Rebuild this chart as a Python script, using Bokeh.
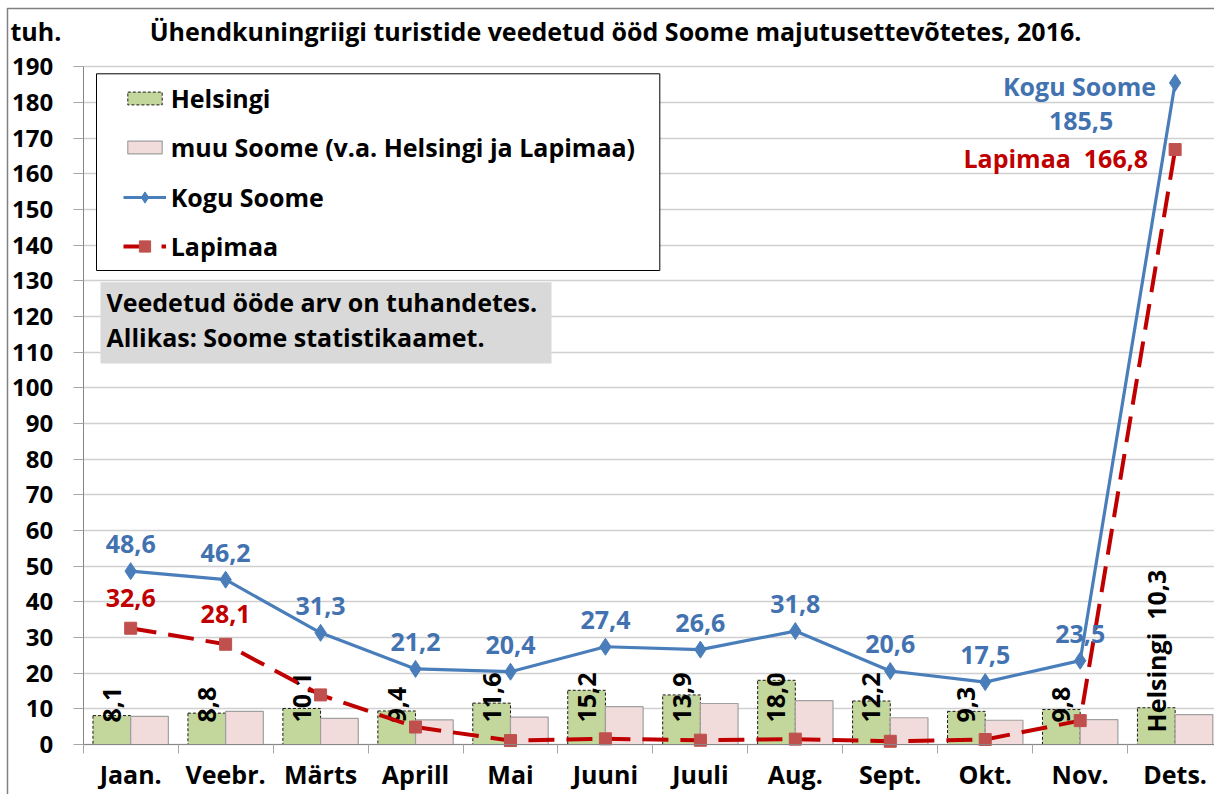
import numpy as np
from bokeh.plotting import figure
from bokeh.models import (Range1d, FixedTicker, Legend, LegendItem, BoxAnnotation,
                          Label, ColumnDataSource)
from bokeh.core.properties import value
from bokeh.embed import file_html
from bokeh.resources import INLINE

# ---------------- data ----------------
months = ["Jaan.", "Veebr.", "Märts", "Aprill", "Mai", "Juuni", "Juuli",
          "Aug.", "Sept.", "Okt.", "Nov.", "Dets."]
helsingi = [8.1, 8.8, 10.1, 9.4, 11.6, 15.2, 13.9, 18.0, 12.2, 9.3, 9.8, 10.3]
muu_soome = [7.9, 9.3, 7.3, 6.9, 7.7, 10.6, 11.5, 12.3, 7.5, 6.8, 7.0, 8.4]
kogu_soome = [48.6, 46.2, 31.3, 21.2, 20.4, 27.4, 26.6, 31.8, 20.6, 17.5, 23.5, 185.5]
lapimaa = [32.6, 28.1, 13.9, 4.9, 1.1, 1.6, 1.2, 1.5, 0.9, 1.4, 6.7, 166.8]
y_ticks = list(range(0, 200, 10))

title_text = "Ühendkuningriigi turistide veedetud ööd Soome majutusettevõtetes, 2016."
unit_text = "tuh."
note_lines = ["Veedetud ööde arv on tuhandetes.", "Allikas: Soome statistikaamet."]
series_names = ["Helsingi", "muu Soome (v.a. Helsingi ja Lapimaa)", "Kogu Soome", "Lapimaa"]
NB = "\u00a0"


def fmt(v):
    return f"{v:.1f}".replace(".", ",")


# ---------------- styling ----------------
FN = "Open Sans"
FONT = value(FN)
FS = "25px"
C_HEL = "#c3d69b"
C_MUU = "#f2dcdb"
C_KOGU = "#4a7ebb"
C_KOGU_TXT = "#4272b0"
C_LAPI = "#c00000"
C_LAPI_M = "#c0504d"

W, H = 1214, 794
AX_X = 82.7        # pixel x of the value axis
AX_Y = 744.0       # pixel y of zero
CW = 94.95         # px per category
PY = 677.7 / 190.0 # px per unit


def dx(px):
    return -0.5 + (px - AX_X) / CW


def dy(py):
    return (AX_Y - py) / PY


p = figure(width=W, height=H, x_range=Range1d(dx(0), dx(W)), y_range=Range1d(dy(H), dy(0)),
           output_backend="svg", toolbar_location=None, title=None, min_border=0,
           min_border_left=0, min_border_right=0, min_border_top=0, min_border_bottom=0)
p.outline_line_color = None
p.background_fill_color = "white"
p.border_fill_color = "white"

# outer chart border (left / top visible)
p.add_layout(BoxAnnotation(left=dx(7), top=dy(8), right=dx(W + 20), bottom=dy(H + 20),
                           fill_alpha=0, line_color="#808080", line_alpha=1, line_width=1.5,
                           level="underlay"))

x = np.arange(len(months))
n = len(months)
bw = 0.397
src = ColumnDataSource(dict(x=x, xh=x - bw / 2, xm=x + bw / 2, hel=helsingi, muu=muu_soome,
                            kogu=kogu_soome, lapi=lapimaa))

rh = p.vbar(x="xh", top="hel", width=bw, source=src, fill_color=C_HEL,
            line_color="#1a1a1a", line_dash="3 2", line_width=1)
rm = p.vbar(x="xm", top="muu", width=bw, source=src, fill_color=C_MUU,
            line_color="#a0a0a0", line_width=1.2)

# Helsingi labels (rotated)
p.text(x=list(x[:n - 1] - bw / 2), y=[0] * (n - 1), text=[fmt(v) for v in helsingi[:n - 1]],
       angle=np.pi / 2, text_align="left", text_baseline="middle", y_offset=-22,
       text_font=FONT, text_font_style="bold", text_font_size=FS, text_color="black")
p.text(x=[x[-1] - bw / 2], y=[0], text=["Helsingi" + NB + NB + fmt(helsingi[-1])],
       angle=np.pi / 2, text_align="left", text_baseline="middle", y_offset=-12,
       text_font=FONT, text_font_style="bold", text_font_size=FS, text_color="black")

ll = p.line("x", "lapi", source=src, line_color=C_LAPI, line_width=4, line_dash="26 12")
sl = p.scatter("x", "lapi", source=src, marker="square", size=12,
               fill_color=C_LAPI_M, line_color=C_LAPI_M)
lk = p.line("x", "kogu", source=src, line_color=C_KOGU, line_width=3.2)
sk = p.scatter("x", "kogu", source=src, marker="diamond", size=17,
               fill_color=C_KOGU, line_color=C_KOGU)

# Kogu labels
p.text(x=list(x[:n - 1]), y=kogu_soome[:n - 1], text=[fmt(v) for v in kogu_soome[:n - 1]],
       text_align="center", text_baseline="middle", y_offset=-27,
       text_font=FONT, text_font_style="bold", text_font_size=FS, text_color=C_KOGU_TXT)
# Lapimaa labels (first two)
p.text(x=list(x[:2]), y=lapimaa[:2], text=[fmt(v) for v in lapimaa[:2]],
       text_align="center", text_baseline="middle", y_offset=-30,
       text_font=FONT, text_font_style="bold", text_font_size=FS, text_color=C_LAPI)
# December labels
p.text(x=[x[-1]], y=[kogu_soome[-1]], text=[series_names[2]], text_align="right",
       text_baseline="middle", x_offset=-19, y_offset=3,
       text_font=FONT, text_font_style="bold", text_font_size=FS, text_color=C_KOGU_TXT)
p.text(x=[x[-1]], y=[kogu_soome[-1]], text=[fmt(kogu_soome[-1])], text_align="center",
       text_baseline="middle", x_offset=-94, y_offset=38,
       text_font=FONT, text_font_style="bold", text_font_size=FS, text_color=C_KOGU_TXT)
p.text(x=[x[-1]], y=[lapimaa[-1]], text=[series_names[3] + NB + NB + fmt(lapimaa[-1])],
       text_align="right", text_baseline="middle", x_offset=-27, y_offset=8,
       text_font=FONT, text_font_style="bold", text_font_size=FS, text_color=C_LAPI)

# axes (fixed inside the frame so that the frame covers the whole canvas)
p.yaxis.fixed_location = -0.5
p.yaxis.bounds = (0, 190)
p.yaxis.ticker = FixedTicker(ticks=y_ticks)
p.yaxis.major_tick_out = 10
p.yaxis.major_tick_in = 0
p.yaxis.minor_tick_out = 0
p.yaxis.minor_tick_in = 0
p.yaxis.major_tick_line_color = "#a6a6a6"
p.yaxis.axis_line_color = "#868686"
p.yaxis.major_label_standoff = 20
p.yaxis.major_label_text_font = FN
p.yaxis.major_label_text_font_style = "bold"
p.yaxis.major_label_text_font_size = "24px"
p.yaxis.major_label_text_color = "black"

p.xaxis.fixed_location = 0
p.xaxis.bounds = (-0.5, dx(W))
p.xaxis.ticker = FixedTicker(ticks=list(range(n)), minor_ticks=[k - 0.5 for k in range(n + 1)])
p.xaxis.major_label_overrides = {i: m for i, m in enumerate(months)}
p.xaxis.major_tick_out = 0
p.xaxis.major_tick_in = 0
p.xaxis.minor_tick_out = 9
p.xaxis.minor_tick_in = 0
p.xaxis.minor_tick_line_color = "#a6a6a6"
p.xaxis.axis_line_color = "#868686"
p.xaxis.major_label_standoff = 3
p.xaxis.major_label_text_font = FN
p.xaxis.major_label_text_font_style = "bold"
p.xaxis.major_label_text_font_size = FS
p.xaxis.major_label_text_color = "black"

p.xgrid.visible = False
p.ygrid.grid_line_color = "#d0d0d0"
p.ygrid.grid_line_width = 1.3
try:
    p.ygrid.cross_bounds = (-0.5, dx(W))
except Exception:
    pass

# legend box + legends
p.add_layout(BoxAnnotation(left=dx(96), right=dx(659.3), top=dy(73.3), bottom=dy(270),
                           fill_color="white", fill_alpha=1, line_color="black",
                           line_alpha=1, line_width=1))
legend_style = dict(glyph_width=43, label_standoff=5, spacing=15, padding=0, margin=0,
                    border_line_color=None, background_fill_alpha=0, label_height=34,
                    label_text_font=FN, label_text_font_style="bold",
                    label_text_font_size=FS, label_text_color="black")
legend_bars = Legend(items=[LegendItem(label=series_names[0], renderers=[rh]),
                            LegendItem(label=series_names[1], renderers=[rm])],
                     location=(122.7, 630), glyph_height=16, **legend_style)
legend_lines = Legend(items=[LegendItem(label=series_names[2], renderers=[lk, sk]),
                             LegendItem(label=series_names[3], renderers=[ll, sl])],
                      location=(122.7, 531), glyph_height=28, **legend_style)
p.add_layout(legend_bars)
p.add_layout(legend_lines)

# note box
p.add_layout(BoxAnnotation(left=dx(100), right=dx(551), top=dy(281.7), bottom=dy(363),
                           fill_color="#d9d9d9", fill_alpha=1, line_color=None))
for i, t in enumerate(note_lines):
    p.add_layout(Label(x=dx(106), y=dy(301.7 + 35 * i), text=t, text_align="left",
                       text_baseline="middle", text_font=FN, text_font_style="bold",
                       text_font_size=FS, text_color="black"))

# title and unit
p.add_layout(Label(x=dx(615), y=dy(30), text=title_text, text_align="center",
                   text_baseline="middle", text_font=FN, text_font_style="bold",
                   text_font_size="25px", text_color="black"))
p.add_layout(Label(x=dx(10), y=dy(30), text=unit_text, text_align="left",
                   text_baseline="middle", text_font=FN, text_font_style="bold",
                   text_font_size="25px", text_color="black"))

open("out.html", "w").write(file_html(p, INLINE))
